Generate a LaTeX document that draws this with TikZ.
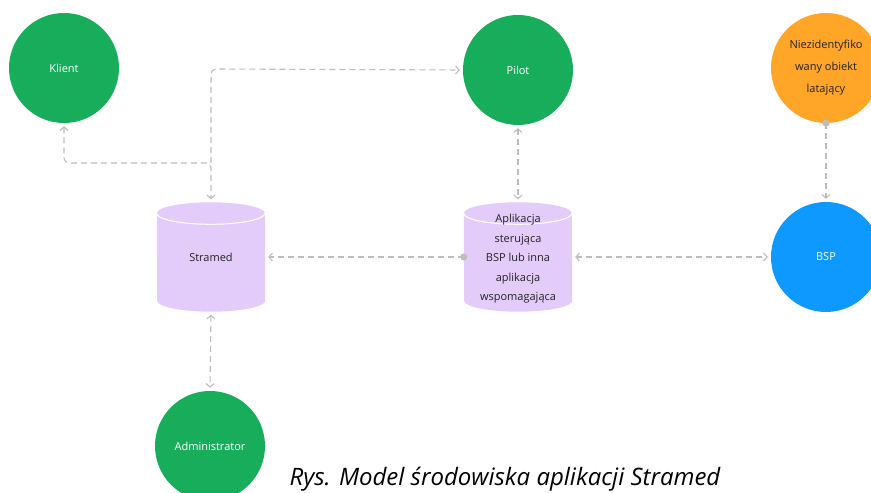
\documentclass[tikz,border=0pt]{standalone}
\usepackage{fontspec}
\setmainfont{Open Sans}
\usetikzlibrary{arrows.meta,calc}
\definecolor{cgreen}{HTML}{17AD5B}
\definecolor{corange}{HTML}{FFA629}
\definecolor{cblue}{HTML}{0D99FF}
\definecolor{cpurple}{HTML}{E4CCFA}
\definecolor{cline}{HTML}{BDBDBD}
\definecolor{ctext}{HTML}{222222}
\tikzset{
  circ/.style={circle,minimum size=110pt,inner sep=0pt,align=center,font=\fontsize{11}{13}\selectfont},
  green/.style={circ,fill=cgreen,text=white},
  cylbox/.style={rectangle,minimum width=108pt,minimum height=109pt,inner sep=0pt,align=center,text=ctext,font=\fontsize{11}{19.5}\selectfont},
  conn/.style={draw=cline,line width=1.1pt,dash pattern=on 6pt off 4pt,rounded corners=5pt,
    arrows={-{Straight Barb[length=3.5pt,width=8pt]}},shorten >=3pt,shorten <=3pt},
  both/.style={conn,arrows={{Straight Barb[length=3.5pt,width=8pt]}-{Straight Barb[length=3.5pt,width=8pt]}}},
  dotp/.style={fill=cline}
}
\newcommand{\mycyl}[1]{%
  \fill[cpurple] ($(#1.north west)+(0,-11)$) arc[start angle=180,end angle=0,x radius=54,y radius=11]
    -- ($(#1.south east)+(0,11)$) arc[start angle=0,end angle=-180,x radius=54,y radius=11] -- cycle;
  \draw[white,line width=1pt] ($(#1.north west)+(0,-11)$) arc[start angle=180,end angle=360,x radius=54,y radius=11];
}
\begin{document}
\begin{tikzpicture}[x=1pt,y=1pt]
\useasboundingbox[fill=white] (0,0) rectangle (871,493);
\node[green] (kl) at (64,425) {Klient};
\node[green] (pl) at (518,423) {Pilot};
\node[circ,fill=corange,text=ctext,font=\fontsize{11}{22}\selectfont] (uf) at (826,425) {Niezidentyfiko\\wany obiekt\\latający};
\node[circ,fill=cblue,text=white] (bs) at (826,236) {BSP};
\node[green] (ad) at (210,47) {Administrator};
\path (211,236) node[cylbox] (st) {};
\path (518,236) node[cylbox] (ap) {};
\mycyl{st}
\mycyl{ap}
\node[cylbox] at (st) {Stramed};
\node[cylbox] at ($(ap)+(0,-2)$) {Aplikacja\\sterująca\\BSP lub inna\\aplikacja\\wspomagająca};
\coordinate (j) at (211,330);
\coordinate (jt) at (211,424);
% connectors
\draw[both] (kl.south) |- (j) -- (st.north);
\draw[conn,shorten <=0pt] (j) -- (jt) -- (pl.west);
\draw[both] (pl.south) -- (ap.north);
\draw[conn,shorten <=0pt] (ap.west) -- (st.east);
\fill[dotp] (ap.west) circle (3.5);
\draw[both] (ap.east) -- (bs.west);
\draw[conn,shorten <=0pt] (uf.south) -- (bs.north);
\fill[dotp] (uf.south) circle (3.5);
\draw[both] (st.south) -- (ad.north);
\node[anchor=base,font=\fontsize{24}{24}\itshape\selectfont,text=black] (cap) at (505,7) {Rys. Model środowiska aplikacji Stramed};
\end{tikzpicture}
\end{document}
